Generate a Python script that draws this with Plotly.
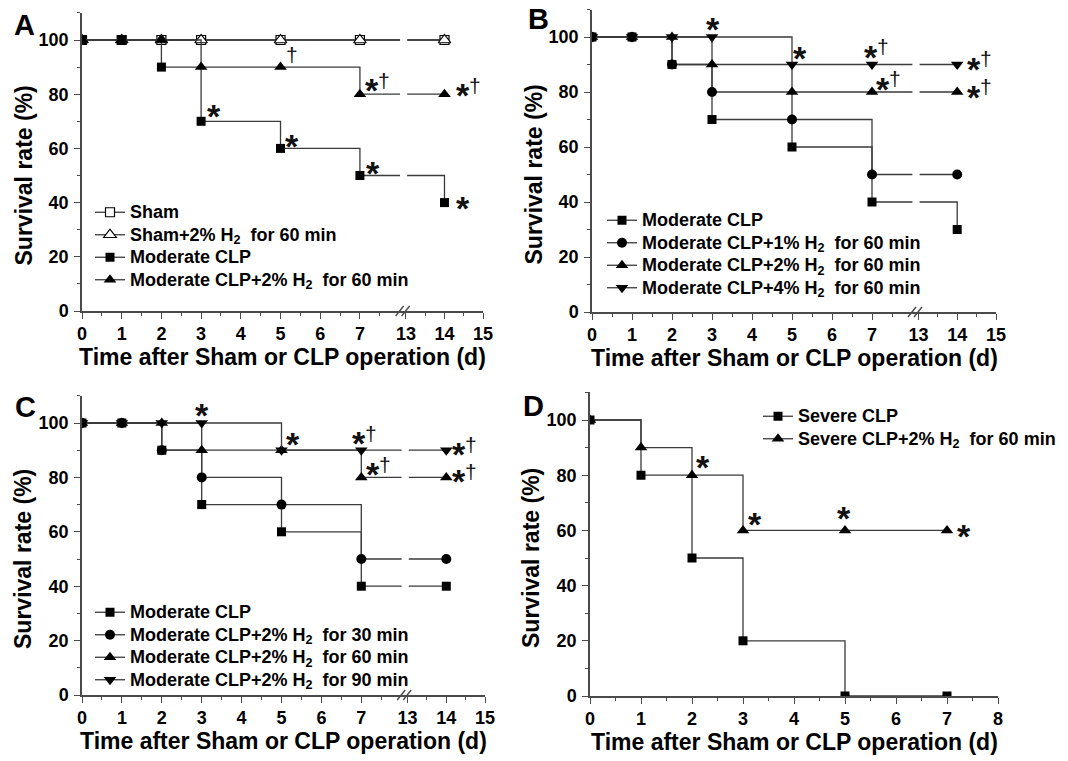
import plotly.graph_objects as go

W, H = 1068, 761

# ---------------- data ----------------
days = [0, 1, 2, 3, 5, 7, 14]
days_D = [0, 1, 2, 3, 5, 7]

A_names = ["Sham", "Sham+2% H<sub>2</sub> \u00a0for 60 min", "Moderate CLP",
           "Moderate CLP+2% H<sub>2</sub> \u00a0for 60 min"]
A_sham = [100, 100, 100, 100, 100, 100, 100]
A_sham_h2 = [100, 100, 100, 100, 100, 100, 100]
A_clp = [100, 100, 90, 70, 60, 50, 40]
A_clp_h2 = [100, 100, 100, 90, 90, 80, 80]

B_names = ["Moderate CLP", "Moderate CLP+1% H<sub>2</sub> \u00a0for 60 min",
           "Moderate CLP+2% H<sub>2</sub> \u00a0for 60 min",
           "Moderate CLP+4% H<sub>2</sub> \u00a0for 60 min"]
B_clp = [100, 100, 90, 70, 60, 40, 30]
B_h2_1 = [100, 100, 90, 80, 70, 50, 50]
B_h2_2 = [100, 100, 100, 90, 80, 80, 80]
B_h2_4 = [100, 100, 100, 100, 90, 90, 90]

C_names = ["Moderate CLP", "Moderate CLP+2% H<sub>2</sub> \u00a0for 30 min",
           "Moderate CLP+2% H<sub>2</sub> \u00a0for 60 min",
           "Moderate CLP+2% H<sub>2</sub> \u00a0for 90 min"]
C_clp = [100, 100, 90, 70, 60, 40, 40]
C_h2_30 = [100, 100, 90, 80, 70, 50, 50]
C_h2_60 = [100, 100, 100, 90, 90, 80, 80]
C_h2_90 = [100, 100, 100, 100, 90, 90, 90]

D_names = ["Severe CLP", "Severe CLP+2% H<sub>2</sub> \u00a0for 60 min"]
D_clp = [100, 80, 50, 20, 0, 0]
D_clp_h2 = [100, 90, 80, 60, 60, 60]

x_ticks_broken = [0, 1, 2, 3, 4, 5, 6, 7, 13, 14, 15]
x_ticks_D = [0, 1, 2, 3, 4, 5, 6, 7, 8]
y_ticks = [0, 20, 40, 60, 80, 100]

# significance marks: (axis x, y value, text)
marks_A = [(3.33, 73.5, "*"), (5.29, 62.5, "*"), (7.33, 52.5, "*"), (9.6, 39.5, "*"),
           (7.31, 83.0, "*†"), (9.6, 81.0, "*†")]
dagger_A = [(5.28, 94.5)]
marks_B = [(3.02, 104.3, "*"), (5.2, 93.7, "*"), (6.97, 94.3, "*†"), (9.55, 90.0, "*†"),
           (7.28, 82.7, "*†"), (9.55, 79.8, "*†")]
marks_C = [(3.0, 104.3, "*"), (5.3, 93.7, "*"), (6.95, 94.0, "*†"), (9.45, 90.0, "*†"),
           (7.29, 82.7, "*†"), (9.45, 80.0, "*†")]
marks_D = [(2.22, 84.3, "*"), (3.23, 63.7, "*"), (4.99, 66.1, "*"), (7.33, 59.4, "*")]

# ---------------- layout helpers ----------------
FONT = "Liberation Sans, Arial, sans-serif"
LINE = "#3a3a3a"
AXC = "#4a4a4a"


def bpos(d):
    # broken axis: 0..7 linear, then 13..15 after the break
    return d if d <= 7 else 8.16 + (d - 13) * 0.97


XMAX_B = bpos(15)

# panel pixel boxes: x0, x1, y(0), y(100)
boxes = {
    "A": (82, 483, 311, 40),
    "B": (592, 996, 312, 37),
    "C": (82, 485, 695, 423),
    "D": (590, 998, 696, 420),
}


def dom(box):
    x0, x1, y0, y100 = box
    ytop = y0 - (y0 - y100) * 1.1
    return [x0 / W, x1 / W], [1 - y0 / H, 1 - ytop / H]


fig = go.Figure()


def leg_name(s):
    return '<span style="font-size:18px">' + s + '</span>'


def add(name, xs, ys, symbol, n, legend, fill="black", size=9):
    fig.add_trace(go.Scatter(
        x=xs, y=ys, mode="lines+markers", name=leg_name(name),
        line=dict(shape="hv", color=LINE, width=1.3),
        marker=dict(symbol=symbol, size=size, color=fill,
                    line=dict(color="black", width=1.2 if fill == "white" else 0)),
        xaxis="x" + ("" if n == 1 else str(n)), yaxis="y" + ("" if n == 1 else str(n)),
        legend=legend))


bx = [bpos(d) for d in days]
add(A_names[0], bx, A_sham, "square", 1, "legend", fill="white", size=9)
add(A_names[1], bx, A_sham_h2, "triangle-up", 1, "legend", fill="white", size=11)
add(A_names[2], bx, A_clp, "square", 1, "legend")
add(A_names[3], bx, A_clp_h2, "triangle-up", 1, "legend", size=11)

add(B_names[0], bx, B_clp, "square", 2, "legend2")
add(B_names[1], bx, B_h2_1, "circle", 2, "legend2", size=10)
add(B_names[2], bx, B_h2_2, "triangle-up", 2, "legend2", size=11)
add(B_names[3], bx, B_h2_4, "triangle-down", 2, "legend2", size=11)

add(C_names[0], bx, C_clp, "square", 3, "legend3")
add(C_names[1], bx, C_h2_30, "circle", 3, "legend3", size=10)
add(C_names[2], bx, C_h2_60, "triangle-up", 3, "legend3", size=11)
add(C_names[3], bx, C_h2_90, "triangle-down", 3, "legend3", size=11)

add(D_names[0], days_D, D_clp, "square", 4, "legend4")
add(D_names[1], days_D, D_clp_h2, "triangle-up", 4, "legend4", size=11)

tickfont = dict(family=FONT, size=18, color="black", weight="bold")

layout = dict(width=W, height=H, margin=dict(l=0, r=0, t=0, b=0, autoexpand=False),
              paper_bgcolor="white", plot_bgcolor="white", showlegend=True)

axis_common = dict(showline=True, linecolor=AXC, linewidth=1.5, ticks="outside",
                   ticklen=6, tickwidth=1.4, tickcolor=AXC, showgrid=False,
                   zeroline=False, tickfont=tickfont, automargin=False)

shapes = []
annotations = []

for i, key in enumerate(["A", "B", "C", "D"], start=1):
    xd, yd = dom(boxes[key])
    sx = "" if i == 1 else str(i)
    if key == "D":
        xr = [0, 8]
        tv = x_ticks_D
        tt = [str(t) for t in x_ticks_D]
        minor_v = [t + 0.5 for t in x_ticks_D[:-1]]
    else:
        xr = [0, XMAX_B]
        tv = [bpos(t) for t in x_ticks_broken]
        tt = [str(t) for t in x_ticks_broken]
        minor_v = [t + 0.5 for t in range(0, 8)] + [bpos(13.5), bpos(14.5)]
    layout["xaxis" + sx] = dict(axis_common, domain=xd, range=xr, anchor="y" + sx,
                                tickmode="array", tickvals=tv, ticktext=tt,
                                minor=dict(tickmode="array", tickvals=minor_v, ticks="outside",
                                           ticklen=3, tickwidth=1.2, tickcolor=AXC))
    layout["yaxis" + sx] = dict(axis_common, domain=yd, range=[0, 110], anchor="x" + sx,
                                tickmode="array", tickvals=y_ticks,
                                ticklabelstandoff=2,
                                minor=dict(tickmode="array", tickvals=[10, 30, 50, 70, 90, 110],
                                           ticks="outside", ticklen=3, tickwidth=1.2,
                                           tickcolor=AXC))
    x0, x1, y0, y100 = boxes[key]
    # axis titles
    annotations.append(dict(xref="paper", yref="paper", x=(x0 + x1) / 2 / W,
                            y=1 - (y0 + 46) / H, text="Time after Sham or CLP operation (d)",
                            showarrow=False, xanchor="center", yanchor="middle",
                            font=dict(family=FONT, size=23, color="black", weight="bold")))
    annotations.append(dict(xref="paper", yref="paper", x=(x0 - 59) / W,
                            y=1 - (y0 - (y0 - y100) * 0.5) / H, text="Survival rate (%)",
                            textangle=-90, showarrow=False, xanchor="center", yanchor="middle",
                            font=dict(family=FONT, size=23, color="black", weight="bold")))
    if key != "D":
        # break gap on data lines
        shapes.append(dict(type="rect", xref="x" + sx, yref="y" + sx, x0=8.01, x1=8.19,
                           y0=1.5, y1=109, fillcolor="white", line=dict(width=0),
                           layer="above"))
        # break marks on x axis
        scale = (x1 - x0) / XMAX_B
        for bxm in (8.0, 8.15):
            px = x0 + bxm * scale
            shapes.append(dict(type="line", xref="paper", yref="paper",
                               x0=(px - 4) / W, x1=(px + 4) / W,
                               y0=1 - (y0 + 5) / H, y1=1 - (y0 - 5) / H,
                               line=dict(color=AXC, width=1.4)))

# panel letters
for letter, (px, py) in {"A": (24, 25), "B": (538, 19), "C": (25, 407), "D": (533, 406)}.items():
    annotations.append(dict(xref="paper", yref="paper", x=px / W, y=1 - py / H, text=letter,
                            showarrow=False, xanchor="center", yanchor="middle",
                            font=dict(family=FONT, size=29, color="black", weight="bold")))

# significance marks
STAR = dict(family=FONT, size=34, color="#111", weight="bold")
DAG = dict(family=FONT, size=21, color="#111")


def add_marks(marks, n):
    sx = "" if n == 1 else str(n)
    for (x, y, t) in marks:
        annotations.append(dict(xref="x" + sx, yref="y" + sx, x=x, y=y, text="*",
                                showarrow=False, xanchor="center", yanchor="middle",
                                yshift=-4, font=STAR))
        if "†" in t:
            annotations.append(dict(xref="x" + sx, yref="y" + sx, x=x, y=y, text="†",
                                    showarrow=False, xanchor="center", yanchor="middle",
                                    xshift=12, yshift=6, font=DAG))


add_marks(marks_A, 1)
for (x, y) in dagger_A:
    annotations.append(dict(xref="x", yref="y", x=x, y=y, text="†", showarrow=False,
                            xanchor="center", yanchor="middle", font=DAG))
add_marks(marks_B, 2)
add_marks(marks_C, 3)
add_marks(marks_D, 4)

legfont = dict(family=FONT, size=15, color="black", weight="bold")
leg_common = dict(font=legfont, bgcolor="rgba(0,0,0,0)", xanchor="left", yanchor="top",
                  tracegroupgap=0, itemwidth=30)
layout["legend"] = dict(leg_common, x=90 / W, y=1 - 196 / H)
layout["legend2"] = dict(leg_common, x=602 / W, y=1 - 204 / H)
layout["legend3"] = dict(leg_common, x=90 / W, y=1 - 596 / H)
layout["legend4"] = dict(leg_common, x=758 / W, y=1 - 400 / H)

layout["shapes"] = shapes
layout["annotations"] = annotations
fig.update_layout(**layout)
fig.write_html("out.html", config={"displayModeBar": False},
               post_script="document.body.style.margin='0px';document.body.style.padding='0px';")
